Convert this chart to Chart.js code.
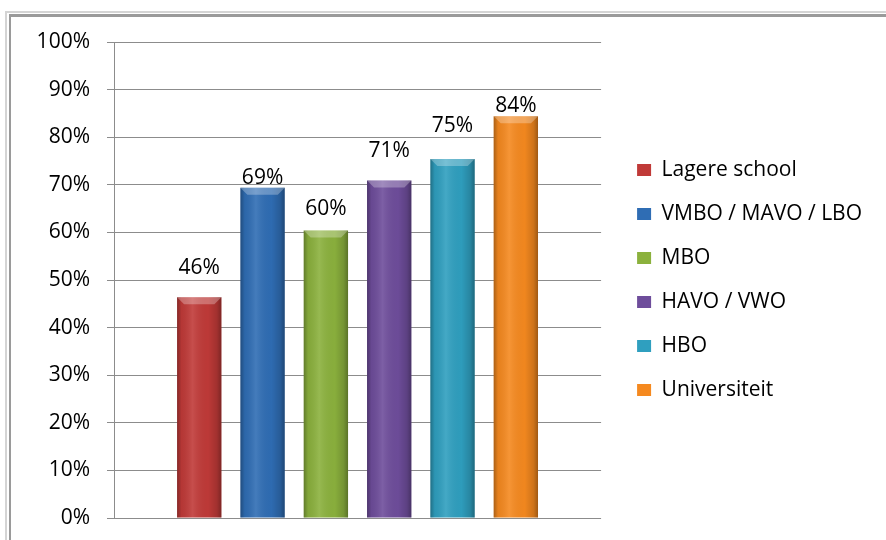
<!DOCTYPE html>
<html>
<head>
  <title>Opleidingsniveau</title>
  <script src="https://cdn.jsdelivr.net/npm/chart.js"></script>
  <style>
    body {
      margin: 0;
      background: #fff;
      width: 886px;
      height: 540px;
      overflow: hidden;
      position: relative;
    }
    .frame-outer {
      position: absolute;
      left: 5px;
      top: 11px;
      right: -20px;
      bottom: -20px;
      border-left: 2px solid #d4d4d4;
      border-top: 2px solid #d4d4d4;
    }
    .frame-inner {
      position: absolute;
      left: 9px;
      top: 14px;
      right: -20px;
      bottom: -20px;
      border-left: 2px solid #9a9a9a;
      border-top: 3px solid #9a9a9a;
    }
    canvas {
      position: absolute;
      left: 0;
      top: 0;
    }
  </style>
</head>
<body>
  <div class="frame-outer"></div>
  <div class="frame-inner"></div>
  <canvas id="chart" width="886" height="548"></canvas>

  <script>
    const levels = ['Lagere school', 'VMBO / MAVO / LBO', 'MBO', 'HAVO / VWO', 'HBO', 'Universiteit'];
    const percentages = [46.4, 69.4, 60.4, 70.9, 75.4, 84.4];
    const yTicks = [0, 10, 20, 30, 40, 50, 60, 70, 80, 90, 100];

    const barColors = ['#c03a38', '#2f6db4', '#8bb13d', '#6e4d9b', '#2f9fbf', '#f5891f'];
    // the value labels sit at uneven heights in the original
    const labelLift = [23, 4, 15, 24, 27, 4];

    const FONT = { family: "'Open Sans', sans-serif", size: 21 };

    const barLook = {
      id: 'barLook',
      afterDatasetsDraw(chart) {
        const ctx = chart.ctx;
        chart.data.datasets.forEach((ds, i) => {
          chart.getDatasetMeta(i).data.forEach((bar, j) => {
            const l = bar.x - bar.width / 2;
            const r = bar.x + bar.width / 2;
            const t = bar.y;
            const b = bar.base;
            ctx.save();
            const g = ctx.createLinearGradient(l, 0, r, 0);
            g.addColorStop(0, 'rgba(0,0,0,0.30)');
            g.addColorStop(0.1, 'rgba(0,0,0,0.06)');
            g.addColorStop(0.35, 'rgba(255,255,255,0.10)');
            g.addColorStop(0.7, 'rgba(0,0,0,0.02)');
            g.addColorStop(0.9, 'rgba(0,0,0,0.16)');
            g.addColorStop(1, 'rgba(0,0,0,0.35)');
            ctx.fillStyle = g;
            ctx.fillRect(l, t, r - l, b - t);

            // bevel on top
            ctx.beginPath();
            ctx.moveTo(l, t);
            ctx.lineTo(r, t);
            ctx.lineTo(r - 7, t + 7);
            ctx.lineTo(l + 7, t + 7);
            ctx.closePath();
            ctx.fillStyle = 'rgba(255,255,255,0.28)';
            ctx.fill();

            // value label
            ctx.fillStyle = '#000';
            ctx.font = FONT.size + 'px ' + FONT.family;
            ctx.textAlign = 'center';
            ctx.textBaseline = 'alphabetic';
            ctx.fillText(Math.round(ds.data[j]) + '%', bar.x, t - labelLift[i]);
            ctx.restore();
          });
        });
      }
    };

    const ctx = document.getElementById('chart').getContext('2d');
    new Chart(ctx, {
      type: 'bar',
      data: {
        labels: [''],
        datasets: levels.map((name, i) => ({
          label: name,
          data: [percentages[i]],
          backgroundColor: barColors[i],
          borderWidth: 0,
          categoryPercentage: 0.78,
          barPercentage: 0.7
        }))
      },
      options: {
        responsive: false,
        animation: false,
        devicePixelRatio: 1,
        layout: {
          padding: { left: 0, top: 42, right: 14, bottom: 30 }
        },
        plugins: {
          tooltip: { enabled: false },
          legend: {
            position: 'right',
            maxWidth: 400,
            labels: {
              font: FONT,
              color: '#000',
              boxWidth: 14,
              boxHeight: 12,
              padding: 23
            }
          }
        },
        scales: {
          x: {
            display: false
          },
          y: {
            min: 0,
            max: 100,
            afterBuildTicks(scale) {
              scale.ticks = yTicks.map(v => ({ value: v }));
            },
            afterFit(scale) {
              scale.width = 114;
            },
            ticks: {
              font: FONT,
              color: '#000',
              padding: 17,
              callback: v => v + '%'
            },
            grid: {
              color: '#8c8c8c',
              tickColor: '#8c8c8c',
              tickLength: 7,
              lineWidth: 1
            },
            border: {
              display: true,
              color: '#8c8c8c'
            }
          },
          gap: {
            type: 'linear',
            position: 'right',
            display: true,
            afterFit(scale) {
              scale.width = 13;
            },
            ticks: { display: false },
            grid: { display: false },
            border: { display: false }
          }
        }
      },
      plugins: [barLook]
    });
  </script>
</body>
</html>
